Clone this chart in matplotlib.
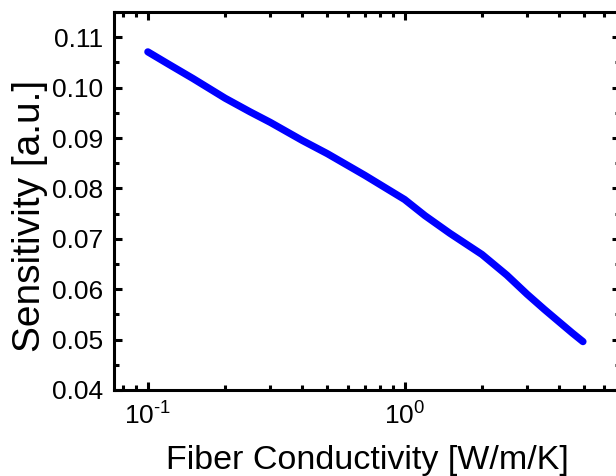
import matplotlib
matplotlib.use("Agg")
import matplotlib.pyplot as plt
from matplotlib.ticker import LogLocator, MultipleLocator, FixedLocator, FormatStrFormatter

plt.rcParams['font.family'] = ['Liberation Sans', 'DejaVu Sans']
plt.rcParams['mathtext.fontset'] = 'custom'
plt.rcParams['mathtext.rm'] = 'Liberation Sans'
plt.rcParams['mathtext.it'] = 'Liberation Sans:italic'
plt.rcParams['axes.unicode_minus'] = False

# fiber conductivity sweep and resulting sensitivity
conductivity = [0.1, 0.12, 0.15, 0.2, 0.25, 0.3, 0.4, 0.5, 0.7, 1.0, 1.2, 1.5,
                2.0, 2.5, 3.0, 3.5, 4.0, 4.5, 4.95]
sensitivity = [0.1071, 0.1047, 0.1018, 0.0979, 0.0952, 0.0931, 0.0895, 0.0869,
               0.0826, 0.0778, 0.0746, 0.0711, 0.0669, 0.0628, 0.0590, 0.0560,
               0.0535, 0.0513, 0.0496]

fig = plt.figure(figsize=(6.16, 4.76), dpi=100)
ax = fig.add_axes([0.185, 0.1807, 0.8215, 0.794])

ax.plot(conductivity, sensitivity, color='#0000ff', lw=5.2, solid_capstyle='round')

ax.set_xscale('log')
ax.set_xlim(0.0738, 6.9)
ax.set_ylim(0.04, 0.115)

ax.xaxis.set_major_locator(FixedLocator([0.1, 1.0]))
ax.xaxis.set_minor_locator(LogLocator(base=10, subs=range(2, 10)))
ax.set_xticklabels(['10$^{\\text{-1}}$', '10$^{0}$'])
ax.yaxis.set_major_locator(MultipleLocator(0.01))
ax.yaxis.set_minor_locator(MultipleLocator(0.005))
ax.yaxis.set_major_formatter(FormatStrFormatter('%.2f'))

for s in ax.spines.values():
    s.set_linewidth(2.2)
ax.tick_params(which='both', direction='in', top=True, right=True, width=2.2,
               labelsize=19)
ax.tick_params(axis='y', pad=8)
ax.tick_params(axis='x', pad=9)
ax.tick_params(which='major', length=6)
ax.tick_params(which='minor', length=3.5)

ax.set_xlabel('Fiber Conductivity [W/m/K]', fontsize=24.5, labelpad=11)
ax.set_ylabel('Sensitivity [a.u.]', fontsize=28)
ax.yaxis.set_label_coords(-0.13, 0.46)

fig.savefig('out.png', dpi=100)
